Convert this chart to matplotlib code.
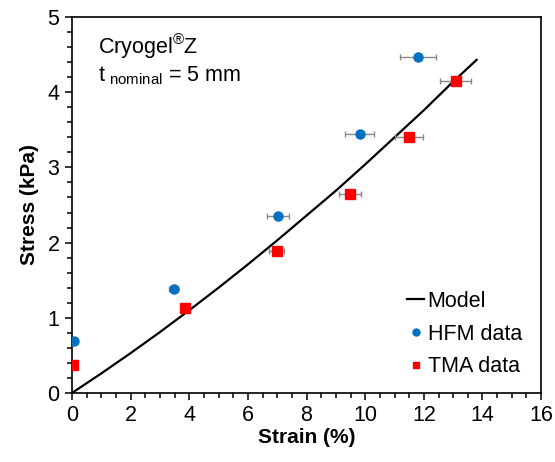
import matplotlib.pyplot as plt
from matplotlib.ticker import MultipleLocator
from matplotlib.lines import Line2D

plt.rcParams['font.family'] = ['Liberation Sans', 'DejaVu Sans']
plt.rcParams['mathtext.fontset'] = 'custom'
plt.rcParams['mathtext.rm'] = 'Liberation Sans'

# --- dados ---
model_strain = [0.0, 1.0, 2.0, 3.0, 4.0, 5.0, 6.0, 7.0, 8.0, 9.0, 10.0, 11.0, 12.0, 13.0, 13.8]
model_stress = [0.0, 0.26, 0.53, 0.81, 1.10, 1.40, 1.71, 2.03, 2.36, 2.69, 3.04, 3.40, 3.76, 4.14, 4.43]

hfm_strain = [0.08, 3.47, 7.03, 9.81, 11.79]
hfm_stress = [0.69, 1.38, 2.35, 3.44, 4.47]
hfm_err = [0.05, 0.15, 0.37, 0.49, 0.61]

tma_strain = [0.02, 3.87, 6.98, 9.49, 11.50, 13.08]
tma_stress = [0.37, 1.13, 1.89, 2.64, 3.40, 4.15]
tma_err = [0.03, 0.08, 0.25, 0.37, 0.47, 0.52]

BLUE = '#0070C0'
RED = '#FF0000'

fig = plt.figure(figsize=(5.55, 4.62), dpi=100)
ax = fig.add_axes([0.1297, 0.1494, 0.8453, 0.8138])

ax.plot(model_strain, model_stress, color='black', lw=1.6, zorder=2)
ax.errorbar(hfm_strain, hfm_stress, xerr=hfm_err, fmt='o', color=BLUE,
            ms=6.5, ecolor='#888888', elinewidth=1, capsize=2.5, capthick=1, zorder=3)
ax.errorbar(tma_strain, tma_stress, xerr=tma_err, fmt='s', color=RED,
            ms=6.5, ecolor='#888888', elinewidth=1, capsize=2.5, capthick=1, zorder=3)

ax.set_xlim(0, 16)
ax.set_ylim(0, 5)
ax.xaxis.set_major_locator(MultipleLocator(2))
ax.xaxis.set_minor_locator(MultipleLocator(0.5))
ax.yaxis.set_major_locator(MultipleLocator(1))
ax.yaxis.set_minor_locator(MultipleLocator(0.2))
ax.tick_params(which='both', direction='out', labelsize=15.5, width=1.1, color='black')
ax.tick_params(which='major', length=5, pad=4)
ax.tick_params(which='minor', length=3.5)
for s in ax.spines.values():
    s.set_linewidth(1.2)

ax.set_xlabel('Strain (%)', fontsize=15, fontweight='bold', labelpad=1)
ax.set_ylabel('Stress (kPa)', fontsize=15, fontweight='bold', labelpad=6)

ax.text(0.055, 0.96, r'Cryogel$^{\mathrm{®}}$Z', transform=ax.transAxes,
        fontsize=15.5, va='top', ha='left')
ax.text(0.055, 0.875, r't$_{\mathrm{\ nominal}}$ = 5 mm', transform=ax.transAxes,
        fontsize=15.5, va='top', ha='left')

handles = [
    Line2D([], [], color='black', lw=1.6),
    Line2D([], [], ls='none', marker='o', color=BLUE, ms=5),
    Line2D([], [], ls='none', marker='s', color=RED, ms=5),
]
ax.legend(handles, ['Model', 'HFM data', 'TMA data'], loc='lower right',
          frameon=False, fontsize=15.5, handlelength=0.8, handletextpad=0.15,
          labelspacing=0.55, bbox_to_anchor=(1.0, -0.01))

fig.savefig('out.png', dpi=100)
